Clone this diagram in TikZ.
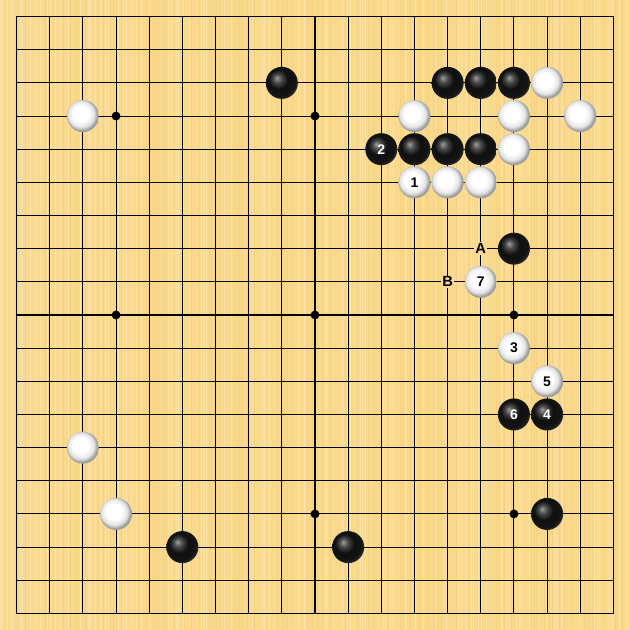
\documentclass[tikz,border=0pt]{standalone}
\usepackage{fontspec}
\setsansfont{Liberation Sans}
\usetikzlibrary{positioning}

\definecolor{boardwood}{RGB}{249,217,142}
\definecolor{boardlight}{RGB}{252,226,164}
\definecolor{boarddark}{RGB}{246,209,128}

\pgfdeclareradialshading{whitestoneshade}{\pgfpoint{-5bp}{5bp}}{%
    color(0bp)=(white);
    color(12bp)=(white);
    color(20bp)=(black!10);
    color(25bp)=(black!38);
    color(50bp)=(black!38)}
\pgfdeclareradialshading{blackstoneshade}{\pgfpoint{-8bp}{8bp}}{%
    color(0bp)=(black!38);
    color(7bp)=(black!72);
    color(15bp)=(black!94);
    color(25bp)=(black!92);
    color(30bp)=(black!80);
    color(50bp)=(black!80)}

\begin{document}
\begin{tikzpicture} [
                x=0.6cm, y=-0.6cm,
                gridline/.style={
                    line width=0.55pt,
                    black
                },
                starpoint/.style={
                    circle,
                    fill=black,
                    inner sep=0pt,
                    minimum size=1.6mm
                },
                blackstone/.style={
                    circle,
                    inner sep=0pt,
                    minimum size=5.8mm,
                    shading=blackstoneshade,
                    text=white,
                    font=\sffamily\bfseries\fontsize{7.2}{8}\selectfont
                },
                whitestone/.style={
                    circle,
                    inner sep=0pt,
                    minimum size=5.8mm,
                    shading=whitestoneshade,
                    text=black,
                    font=\sffamily\bfseries\fontsize{7.2}{8}\selectfont
                },
                marklabel/.style={
                    fill=boardwood,
                    inner sep=0.6pt,
                    font=\sffamily\bfseries\fontsize{7.6}{8}\selectfont
                }
            ]

                \fill[boardwood] (-0.5,-0.5) rectangle (18.5,18.5);
                \useasboundingbox (-0.5,-0.5) rectangle (18.5,18.5);

                \pgfmathsetseed{7}
                \foreach \k in {0,...,250} {
                    \pgfmathsetmacro\stripex{-0.5+\k*0.076}
                    \pgfmathrandominteger{\stripec}{0}{2}
                    \ifnum\stripec=0
                        \draw[boardlight, line width=0.5pt] (\stripex,-0.5) -- (\stripex,18.5);
                    \fi
                    \ifnum\stripec=1
                        \draw[boarddark, line width=0.4pt] (\stripex,-0.5) -- (\stripex,18.5);
                    \fi
                }

                \foreach \i in {0,...,18} {
                    \draw[gridline] (\i,0) -- (\i,18);
                    \draw[gridline] (0,\i) -- (18,\i);
                }
                \draw[line width=0.7pt] (0,0) rectangle (18,18);

                \foreach \c in {3,9,15} {
                    \foreach \r in {3,9,15} {
                        \node[starpoint] (star\c\r) at (\c,\r) {};
                    }
                }

                \node[blackstone]   (bA)    at (8,2)    {};
                \node[blackstone]   (bB)    at (13,2)   {};
                \node[blackstone]   (bC)    at (14,2)   {};
                \node[blackstone]   (bD)    at (15,2)   {};
                \node[whitestone]   (wA)    at (16,2)   {};

                \node[whitestone]   (wB)    at (2,3)    {};
                \node[whitestone]   (wC)    at (12,3)   {};
                \node[whitestone]   (wD)    at (15,3)   {};
                \node[whitestone]   (wE)    at (17,3)   {};

                \node[blackstone]   (move2) at (11,4)   {2};
                \node[blackstone]   (bE)    at (12,4)   {};
                \node[blackstone]   (bF)    at (13,4)   {};
                \node[blackstone]   (bG)    at (14,4)   {};
                \node[whitestone]   (wF)    at (15,4)   {};

                \node[whitestone]   (move1) at (12,5)   {1};
                \node[whitestone]   (wG)    at (13,5)   {};
                \node[whitestone]   (wH)    at (14,5)   {};

                \node[blackstone]   (bH)    at (15,7)   {};
                \node[marklabel]    (markA) at (14,7)   {A};
                \node[marklabel]    (markB) at (13,8)   {B};
                \node[whitestone]   (move7) at (14,8)   {7};

                \node[whitestone]   (move3) at (15,10)  {3};
                \node[whitestone]   (move5) at (16,11)  {5};
                \node[blackstone]   (move6) at (15,12)  {6};
                \node[blackstone]   (move4) at (16,12)  {4};

                \node[whitestone]   (wI)    at (2,13)   {};
                \node[whitestone]   (wJ)    at (3,15)   {};
                \node[blackstone]   (bI)    at (16,15)  {};
                \node[blackstone]   (bJ)    at (5,16)   {};
                \node[blackstone]   (bK)    at (10,16)  {};

            \end{tikzpicture}
\end{document}
